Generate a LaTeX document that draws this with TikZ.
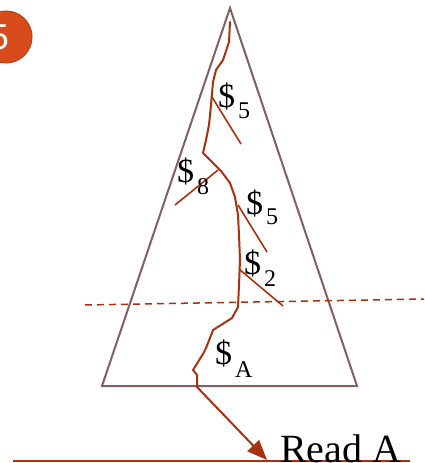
\documentclass[tikz,border=0pt]{standalone}
\usepackage{fontspec}
\setmainfont{Liberation Serif}
\newfontfamily\badgefont{Liberation Sans}
\usetikzlibrary{arrows.meta}
\definecolor{tri}{RGB}{128,96,96}
\definecolor{path}{RGB}{168,50,16}
\definecolor{badge}{RGB}{216,75,27}
\definecolor{badgeedge}{RGB}{184,64,26}
\tikzset{
  triline/.style={draw=tri, line width=2pt, line join=miter},
  crack/.style={draw=path, line width=2pt, line join=round, line cap=round},
  branch/.style={draw=path, line width=1.6pt},
  cost/.style={anchor=base west, inner sep=0pt, text=black},
}
\newcommand{\costlbl}[2]{{\fontsize{34}{34}\selectfont\$}\hspace{3pt}\raisebox{#2}{\fontsize{24}{24}\selectfont #1}}
\begin{document}
\begin{tikzpicture}[x=1pt,y=-1pt]
\useasboundingbox (0,0) rectangle (424,463);
% badge
\fill[badge, draw=badgeedge, line width=1pt] (6,37) circle (26);
\node[inner sep=0pt, text=white, font=\badgefont\fontsize{36}{36}\selectfont] (badgetxt) at (-1,37) {5};
% triangle
\coordinate (apex) at (230,8);
\coordinate (bl) at (102,386);
\coordinate (br) at (357,386);
\draw[triline] (apex) -- (bl) -- (br) -- cycle;
% dashed line
\coordinate (dl) at (85,305);
\coordinate (dr) at (424,299);
\draw[draw=path, line width=1.5pt, dash pattern=on 7pt off 5pt] (dl) -- (dr);
% crack path
\coordinate (ctop) at (230,22);
\coordinate (cend) at (197,387);
\draw[crack] (ctop) -- (229,42) -- (223,60) -- (216,70) -- (213,82) -- (211,105) -- (209,125) -- (206,140) -- (203,153)
  -- (211,161) -- (221,171) -- (230,183) -- (235,197) -- (238,215) -- (239,235) -- (240,260) -- (239,285) -- (238,307)
  -- (232,318) -- (221,325) -- (213,330) -- (210,338) -- (206,348) -- (203,354) -- (198,362) -- (193,370) -- (197,375) -- (cend);
% branches
\coordinate (b1a) at (212,97);  \coordinate (b1b) at (241,144);
\coordinate (b2a) at (175,205); \coordinate (b2b) at (218,170);
\coordinate (b3a) at (238,205); \coordinate (b3b) at (267,252);
\coordinate (b4a) at (239,269); \coordinate (b4b) at (283,306);
\draw[branch] (b1a) -- (b1b);
\draw[branch] (b2a) -- (b2b);
\draw[branch] (b3a) -- (b3b);
\draw[branch] (b4a) -- (b4b);
% labels
\node[cost] (l1) at (218,107) {\costlbl{5}{-11pt}};
\node[cost] (l2) at (177,182) {\costlbl{8}{-12pt}};
\node[cost] (l3) at (246,214) {\costlbl{5}{-10pt}};
\node[cost] (l4) at (244,274) {\costlbl{2}{-12pt}};
\node[cost] (l5) at (215,364) {\costlbl{A}{-13pt}};
% bottom line and read
\coordinate (gl) at (13,461);
\coordinate (gr) at (410,461);
\draw[draw=path, line width=1.5pt] (gl) -- (gr);
\coordinate (tip) at (267,460);
\draw[draw=path, line width=2pt, -{Triangle[length=20pt,width=16pt]}] (cend) -- (tip);
\node[anchor=base west, inner sep=0pt, font=\fontsize{40}{40}\selectfont] (read) at (280,462) {Read A};
\end{tikzpicture}
\end{document}
